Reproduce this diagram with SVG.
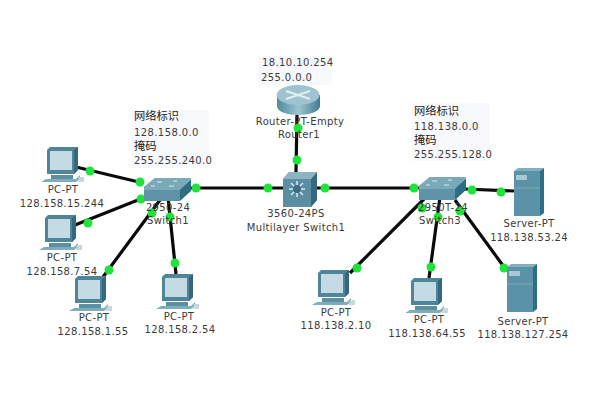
<svg xmlns="http://www.w3.org/2000/svg" width="600" height="406" viewBox="0 0 600 406">
<style>
.t{font-family:"DejaVu Sans","Liberation Sans",sans-serif;font-size:10px;letter-spacing:.35px;fill:#3a3a3a;text-anchor:middle}
.n{font-family:"DejaVu Sans","Liberation Sans",sans-serif;font-size:10px;letter-spacing:.4px;fill:#3a3a3a}
.c{font-family:"Noto Sans CJK SC","Noto Sans",sans-serif;font-size:11.25px;fill:#222}
.l{stroke:#0a0a0a;stroke-width:3.2;fill:none}
.d{fill:#1fe33a}
.note{fill:#f8f9fd}
</style>
<defs>
<linearGradient id="rg" x1="0" x2="1" y1="0" y2="0"><stop offset="0" stop-color="#4f8a9c"/><stop offset=".5" stop-color="#9cc4cf"/><stop offset="1" stop-color="#437d90"/></linearGradient>
<g id="pc">
<path d="M0 3L3 0H31V23L27 27H0Z" fill="#4f8598"/>
<path d="M27 3L31 0V23L27 27Z" fill="#35687c"/>
<rect x="3" y="4" width="22" height="19" fill="#c4dbe4"/>
<path d="M4 28H26V32H4Z" fill="#5b90a2"/>
<path d="M-1 32H29L33 28V32L29 35H-6Z" fill="#7eaebd"/>
<path d="M32 30h5v5h-6z" fill="#c9d6da"/>
</g>
<g id="sw">
<path d="M1 9L12 0H48L37 13V23H1Z" fill="#5f93a7"/>
<path d="M1 9L12 0H48L37 12H1Z" fill="#7aa9b8"/>
<path d="M37 12L48 1V13L37 23Z" fill="#2f6d85"/>
<path d="M14 4h5M30 3h4M8 8h4M26 8h5" stroke="#dbe9ee" stroke-width="1.2"/>
</g>
<g id="srv">
<path d="M0 3L4 0H30L26 3Z" fill="#83b0bf"/>
<path d="M26 3L30 0V45L26 48Z" fill="#2f6d85"/>
<rect y="3" width="26" height="45" fill="#5a93a8"/>
<rect x="2" y="7" width="11" height="5" fill="#a9c8d4"/>
<path d="M0 20H26" stroke="#7fa9b8"/>
</g>
</defs>
<rect width="600" height="406" fill="#fff"/>
<rect class="note" x="132" y="110" width="77" height="58"/>
<rect class="note" x="412" y="103" width="78" height="58"/>
<rect class="note" x="258" y="56" width="74" height="29"/>
<g id="connectors">
<path class="l" d="M76 167L143 183"/>
<path class="l" d="M75 225L143 198"/>
<path class="l" d="M103 277L160 200"/>
<path class="l" d="M176 274L168 197"/>
<path class="l" d="M190 188H283"/>
<path class="l" d="M317 188H420"/>
<path class="l" d="M297 115L296 172"/>
<path class="l" d="M464 189L514 191"/>
<path class="l" d="M350 273L428 195"/>
<path class="l" d="M429 278L440 197"/>
<path class="l" d="M455 200L507 271"/>
<circle class="d" cx="90" cy="171" r="4.500"/><circle class="d" cx="140" cy="182" r="4.500"/>
<circle class="d" cx="88" cy="223" r="4.500"/><circle class="d" cx="141" cy="199" r="4.500"/>
<circle class="d" cx="109" cy="270" r="4.500"/><circle class="d" cx="152" cy="213" r="4.500"/>
<circle class="d" cx="175" cy="263" r="4.500"/><circle class="d" cx="170" cy="217" r="4.500"/>
<circle class="d" cx="196" cy="188" r="4.500"/><circle class="d" cx="268" cy="188" r="4.500"/>
<circle class="d" cx="325" cy="188" r="4.500"/><circle class="d" cx="414" cy="188" r="4.500"/>
<circle class="d" cx="298" cy="128" r="4.500"/><circle class="d" cx="297" cy="160" r="4.500"/>
<circle class="d" cx="472" cy="190" r="4.500"/><circle class="d" cx="501" cy="192" r="4.500"/>
<circle class="d" cx="357" cy="268" r="4.500"/><circle class="d" cx="422" cy="208" r="4.500"/>
<circle class="d" cx="431" cy="267" r="4.500"/><circle class="d" cx="438" cy="217" r="4.500"/>
<circle class="d" cx="460" cy="211" r="4.500"/><circle class="d" cx="504" cy="268" r="4.500"/>
</g>
<g id="pc1"><use href="#pc" x="47" y="147"/><text class="t" x="63" y="193">PC-PT</text><text class="t" x="62" y="207">128.158.15.244</text></g>
<g id="pc2"><use href="#pc" x="45" y="215"/><text class="t" x="62" y="261">PC-PT</text><text class="t" x="62" y="275">128.158.7.54</text></g>
<g id="pc3"><use href="#pc" x="75" y="276"/><text class="t" x="94" y="321">PC-PT</text><text class="t" x="93" y="335">128.158.1.55</text></g>
<g id="pc4"><use href="#pc" x="162" y="274"/><text class="t" x="179" y="320">PC-PT</text><text class="t" x="180" y="333">128.158.2.54</text></g>
<g id="pc5"><use href="#pc" x="318" y="270"/><text class="t" x="336" y="316">PC-PT</text><text class="t" x="336" y="329">118.138.2.10</text></g>
<g id="pc6"><use href="#pc" x="411" y="278"/><text class="t" x="429" y="323">PC-PT</text><text class="t" x="427" y="337">118.138.64.55</text></g>
<g id="switch1"><use href="#sw" x="143" y="178"/><text class="t" x="168" y="211">2950-24</text><text class="t" x="168" y="224">Switch1</text></g>
<g id="switch3"><use href="#sw" x="418" y="177"/><text class="t" x="443" y="211">2950T-24</text><text class="t" x="440" y="224">Switch3</text></g>
<g id="router1">
<path d="M277 95V106C277 112 288 115 298 115S320 112 320 106V95Z" fill="url(#rg)"/>
<ellipse cx="298" cy="95" rx="21.500" ry="10" fill="#9cc3cf"/>
<path d="M286 91L310 99M310 91L286 99" stroke="#e2eef2" stroke-width="2"/>
<text class="t" x="300" y="125">Router-PT-Empty</text><text class="t" x="299" y="138">Router1</text>
</g>
<g id="mlswitch1">
<path d="M283 179L289 172H317V200L311 207H283Z" fill="#5b8ea2"/>
<path d="M311 179L317 172V200L311 207Z" fill="#35697e"/>
<path d="M283 179L289 172H317L311 179Z" fill="#8cb4c2"/>
<path d="M297 181V197M289 189H305M291 183L303 195M303 183L291 195" stroke="#d8e8ee" stroke-width="1.500"/>
<circle cx="297" cy="189" r="4" fill="#3f6d82"/>
<text class="t" x="296" y="217">3560-24PS</text><text class="t" x="296" y="231">Multilayer Switch1</text>
</g>
<g id="server1"><use href="#srv" x="514" y="168"/><text class="t" x="529" y="227">Server-PT</text><text class="t" x="529" y="241">118.138.53.24</text></g>
<g id="server2"><use href="#srv" x="507" y="264"/><text class="t" x="523" y="325">Server-PT</text><text class="t" x="523" y="338">118.138.127.254</text></g>
<g id="notes">
<text class="c" x="134" y="120">网络标识</text><text class="n" x="134" y="136">128.158.0.0</text><text class="c" x="134" y="150">掩码</text><text class="n" x="134" y="164">255.255.240.0</text>
<text class="c" x="414" y="115">网络标识</text><text class="n" x="414" y="130">118.138.0.0</text><text class="c" x="414" y="144">掩码</text><text class="n" x="414" y="158">255.255.128.0</text>
<text class="n" x="262" y="66">18.10.10.254</text><text class="n" x="261" y="81">255.0.0.0</text>
</g>
</svg>
